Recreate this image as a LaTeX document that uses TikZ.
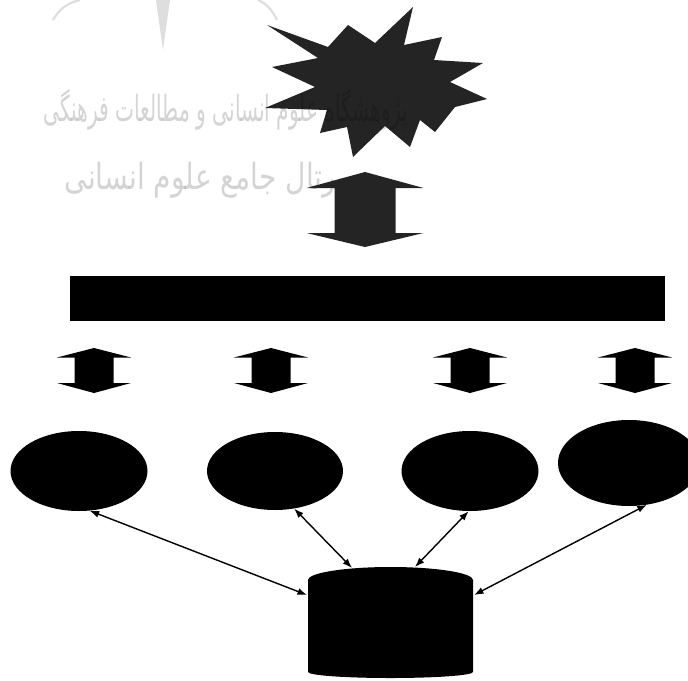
\documentclass[tikz,border=0pt]{standalone}
\usepackage{fontspec}
\newfontfamily\arabicfont[Script=Arabic]{DejaVu Sans}
\TeXXeTstate=1
\usetikzlibrary{shapes.geometric,arrows.meta}
\definecolor{stargray}{HTML}{242424}
\tikzset{
  dblarrow/.pic={\fill[black] (0,-22.5) -- (37,-13) -- (19.5,-13) -- (19.5,12.5) -- (37,12.5) -- (0,22.5) -- (-37,12.5) -- (-19.5,12.5) -- (-19.5,-13) -- (-37,-13) -- cycle;}
}
\begin{document}
\begin{tikzpicture}[x=1pt,y=-1pt,
  ell/.style={ellipse, fill=black, inner sep=0pt},
  link/.style={line width=1.4pt, {Latex[length=9.5pt,width=7pt]}-{Latex[length=9.5pt,width=7pt]}},
  wm/.style={text=black, text opacity=0.17, inner sep=0pt, font=\arabicfont\fontsize{36}{40}\selectfont},
  logo/.style={draw=black!13, line width=2.2pt}
]
\useasboundingbox (0,0) rectangle (688,680);
% faint logo of the watermark
\draw[logo] (53,20) .. controls (60,8) and (68,3) .. (80,0);
\fill[black!13] (156,0) -- (170,0) -- (163,50) -- cycle;
\draw[logo] (277,20) .. controls (272,10) and (267,4) .. (258,0);
% star
\fill[stargray] (267,25) -- (328,47) -- (348,25) -- (375,43) -- (413,7) -- (404,45)
  -- (442,37) -- (434,60) -- (483,63) -- (450,82) -- (487,99) -- (455,107)
  -- (435,132) -- (420,120) -- (410,147) -- (385,126) -- (353,157) -- (347,127)
  -- (320,133) -- (327,110) -- (265,108) -- (315,87) -- (272,67) -- (318,58) -- cycle;
% watermark text
\node[wm, anchor=east] (wm1) at (408,110)
  {\scalebox{0.56}[1]{\beginR پژوهشگاه علوم انسانی و مطالعات فرهنگی\endR}};
\node[wm, anchor=east] (wm2) at (346,180)
  {\scalebox{0.78}[1]{\beginR پرتال جامع علوم انسانی\endR}};
% big double arrow
\fill[stargray] (365,172) -- (423.5,188) -- (395.5,188) -- (395.5,233) -- (423.5,233)
  -- (365,247) -- (306.5,233) -- (334.5,233) -- (334.5,188) -- (306.5,188) -- cycle;
% bar
\fill[black] (70,276) rectangle (665,321);
% small double arrows
\pic at (94,370.5) {dblarrow};
\pic at (271,370.5) {dblarrow};
\pic at (470,370.5) {dblarrow};
\pic at (635,370.5) {dblarrow};
% ellipses
\node[ell, minimum width=137pt, minimum height=80pt] (e1) at (79,471) {};
\node[ell, minimum width=136pt, minimum height=78pt] (e2) at (275,471) {};
\node[ell, minimum width=137pt, minimum height=80pt] (e3) at (470,471) {};
\node[ell, minimum width=142pt, minimum height=86pt] (e4) at (629,463) {};
% cylinder
\fill[black] (308,580) arc[start angle=180, end angle=360, x radius=82.5, y radius=13]
  -- (473,672) arc[start angle=0, end angle=180, x radius=82.5, y radius=6] -- cycle;
\coordinate (c1) at (307,595);
\coordinate (c2) at (352,568);
\coordinate (c3) at (415,567);
\coordinate (c4) at (474,595);
% connectors
\draw[link] (e1.-75) -- (c1);
\draw[link] (e2.-63) -- (c2);
\draw[link] (e3.-92) -- (c3);
\draw[link] (e4.-67) -- (c4);
\end{tikzpicture}
\end{document}
